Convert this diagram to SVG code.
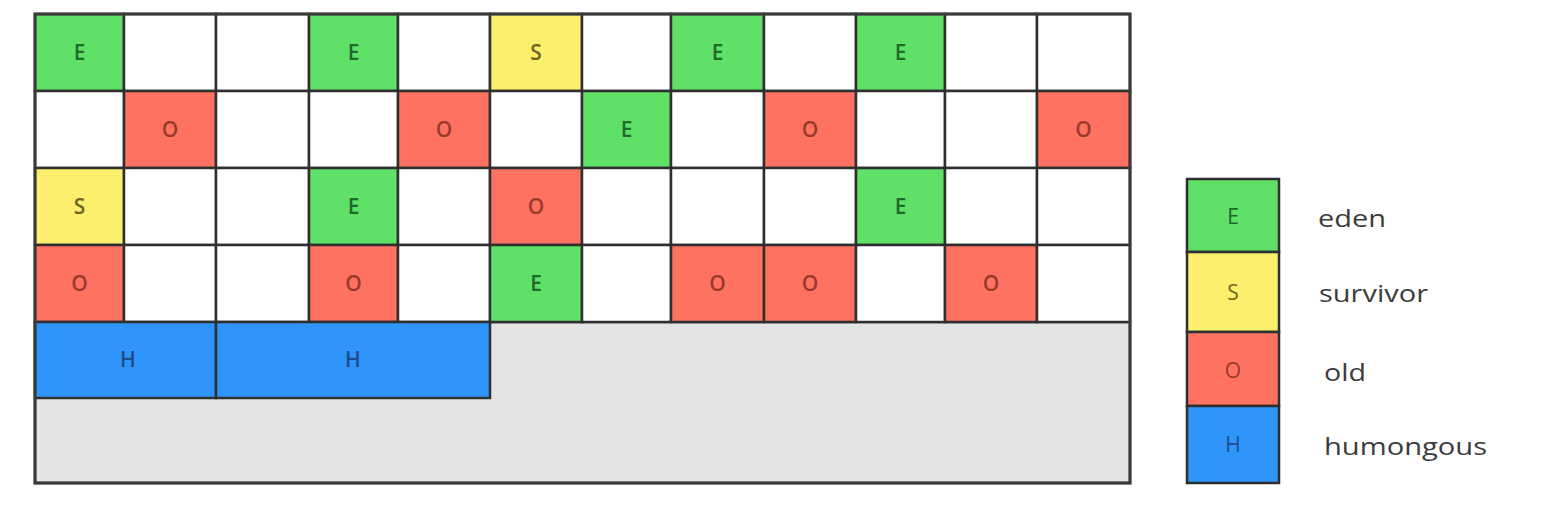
<svg xmlns="http://www.w3.org/2000/svg" width="1548" height="510" viewBox="0 0 1548 510">
<style>
.c{stroke:#2f2f2f;stroke-width:2.5}
.w{fill:#ffffff}
.e{fill:#5fe067}
.s{fill:#fbef6d}
.o{fill:#ff7262}
.h{fill:#2f95fb}
.g{fill:#e4e4e4}
.t{font-family:"Open Sans","Liberation Sans",sans-serif;font-size:21px;font-weight:600;text-anchor:middle}
.lt{font-family:"Open Sans","Liberation Sans",sans-serif;font-size:21px;text-anchor:middle}
.te{fill:#1f6a2b}
.ts{fill:#6e6523}
.to{fill:#973a2b}
.th{fill:#1c4d8a}
.lab{font-family:"Open Sans","Liberation Sans",sans-serif;font-size:24px;fill:#3c3c3c}
</style>
<rect width="1548" height="510" fill="#ffffff"/>
<g id="heap">
<rect id="free-area" class="c g" x="35" y="322" width="1095" height="161"/>
<g id="row0">
<g id="r0c0"><rect class="c e" x="35" y="14" width="89" height="77"/><text class="t te" x="79.5" y="60">E</text></g>
<g id="r0c1"><rect class="c w" x="124" y="14" width="92" height="77"/></g>
<g id="r0c2"><rect class="c w" x="216" y="14" width="93" height="77"/></g>
<g id="r0c3"><rect class="c e" x="309" y="14" width="89" height="77"/><text class="t te" x="353.5" y="60">E</text></g>
<g id="r0c4"><rect class="c w" x="398" y="14" width="92" height="77"/></g>
<g id="r0c5"><rect class="c s" x="490" y="14" width="92" height="77"/><text class="t ts" x="536" y="60">S</text></g>
<g id="r0c6"><rect class="c w" x="582" y="14" width="89" height="77"/></g>
<g id="r0c7"><rect class="c e" x="671" y="14" width="93" height="77"/><text class="t te" x="717.5" y="60">E</text></g>
<g id="r0c8"><rect class="c w" x="764" y="14" width="92" height="77"/></g>
<g id="r0c9"><rect class="c e" x="856" y="14" width="89" height="77"/><text class="t te" x="900.5" y="60">E</text></g>
<g id="r0c10"><rect class="c w" x="945" y="14" width="92" height="77"/></g>
<g id="r0c11"><rect class="c w" x="1037" y="14" width="93" height="77"/></g>
</g>
<g id="row1">
<g id="r1c0"><rect class="c w" x="35" y="91" width="89" height="77"/></g>
<g id="r1c1"><rect class="c o" x="124" y="91" width="92" height="77"/><text class="t to" x="170" y="137">O</text></g>
<g id="r1c2"><rect class="c w" x="216" y="91" width="93" height="77"/></g>
<g id="r1c3"><rect class="c w" x="309" y="91" width="89" height="77"/></g>
<g id="r1c4"><rect class="c o" x="398" y="91" width="92" height="77"/><text class="t to" x="444" y="137">O</text></g>
<g id="r1c5"><rect class="c w" x="490" y="91" width="92" height="77"/></g>
<g id="r1c6"><rect class="c e" x="582" y="91" width="89" height="77"/><text class="t te" x="626.5" y="137">E</text></g>
<g id="r1c7"><rect class="c w" x="671" y="91" width="93" height="77"/></g>
<g id="r1c8"><rect class="c o" x="764" y="91" width="92" height="77"/><text class="t to" x="810" y="137">O</text></g>
<g id="r1c9"><rect class="c w" x="856" y="91" width="89" height="77"/></g>
<g id="r1c10"><rect class="c w" x="945" y="91" width="92" height="77"/></g>
<g id="r1c11"><rect class="c o" x="1037" y="91" width="93" height="77"/><text class="t to" x="1083.5" y="137">O</text></g>
</g>
<g id="row2">
<g id="r2c0"><rect class="c s" x="35" y="168" width="89" height="77"/><text class="t ts" x="79.5" y="214">S</text></g>
<g id="r2c1"><rect class="c w" x="124" y="168" width="92" height="77"/></g>
<g id="r2c2"><rect class="c w" x="216" y="168" width="93" height="77"/></g>
<g id="r2c3"><rect class="c e" x="309" y="168" width="89" height="77"/><text class="t te" x="353.5" y="214">E</text></g>
<g id="r2c4"><rect class="c w" x="398" y="168" width="92" height="77"/></g>
<g id="r2c5"><rect class="c o" x="490" y="168" width="92" height="77"/><text class="t to" x="536" y="214">O</text></g>
<g id="r2c6"><rect class="c w" x="582" y="168" width="89" height="77"/></g>
<g id="r2c7"><rect class="c w" x="671" y="168" width="93" height="77"/></g>
<g id="r2c8"><rect class="c w" x="764" y="168" width="92" height="77"/></g>
<g id="r2c9"><rect class="c e" x="856" y="168" width="89" height="77"/><text class="t te" x="900.5" y="214">E</text></g>
<g id="r2c10"><rect class="c w" x="945" y="168" width="92" height="77"/></g>
<g id="r2c11"><rect class="c w" x="1037" y="168" width="93" height="77"/></g>
</g>
<g id="row3">
<g id="r3c0"><rect class="c o" x="35" y="245" width="89" height="77"/><text class="t to" x="79.5" y="291">O</text></g>
<g id="r3c1"><rect class="c w" x="124" y="245" width="92" height="77"/></g>
<g id="r3c2"><rect class="c w" x="216" y="245" width="93" height="77"/></g>
<g id="r3c3"><rect class="c o" x="309" y="245" width="89" height="77"/><text class="t to" x="353.5" y="291">O</text></g>
<g id="r3c4"><rect class="c w" x="398" y="245" width="92" height="77"/></g>
<g id="r3c5"><rect class="c e" x="490" y="245" width="92" height="77"/><text class="t te" x="536" y="291">E</text></g>
<g id="r3c6"><rect class="c w" x="582" y="245" width="89" height="77"/></g>
<g id="r3c7"><rect class="c o" x="671" y="245" width="93" height="77"/><text class="t to" x="717.5" y="291">O</text></g>
<g id="r3c8"><rect class="c o" x="764" y="245" width="92" height="77"/><text class="t to" x="810" y="291">O</text></g>
<g id="r3c9"><rect class="c w" x="856" y="245" width="89" height="77"/></g>
<g id="r3c10"><rect class="c o" x="945" y="245" width="92" height="77"/><text class="t to" x="991" y="291">O</text></g>
<g id="r3c11"><rect class="c w" x="1037" y="245" width="93" height="77"/></g>
</g>
<g id="humongous-1"><rect class="c h" x="35" y="322" width="181" height="76"/><text class="t th" x="128" y="367">H</text></g>
<g id="humongous-2"><rect class="c h" x="216" y="322" width="274" height="76"/><text class="t th" x="353" y="367">H</text></g>
<rect x="35" y="14" width="1095" height="469" fill="none" stroke="#3a3a3a" stroke-width="3"/>
</g>
<g id="legend">
<g id="legend-eden"><rect class="c e" x="1187" y="179" width="92" height="73"/><text class="lt te" x="1233" y="224">E</text><text class="lab" x="1318" y="227" textLength="68" lengthAdjust="spacingAndGlyphs">eden</text></g>
<g id="legend-survivor"><rect class="c s" x="1187" y="252" width="92" height="80"/><text class="lt ts" x="1233" y="300">S</text><text class="lab" x="1319" y="302" textLength="109" lengthAdjust="spacingAndGlyphs">survivor</text></g>
<g id="legend-old"><rect class="c o" x="1187" y="332" width="92" height="74"/><text class="lt to" x="1233" y="378">O</text><text class="lab" x="1324" y="381" textLength="42" lengthAdjust="spacingAndGlyphs">old</text></g>
<g id="legend-humongous"><rect class="c h" x="1187" y="406" width="92" height="77"/><text class="lt th" x="1233" y="452">H</text><text class="lab" x="1324" y="455" textLength="163" lengthAdjust="spacingAndGlyphs">humongous</text></g>
</g>
<g id="connectors"/>
</svg>
